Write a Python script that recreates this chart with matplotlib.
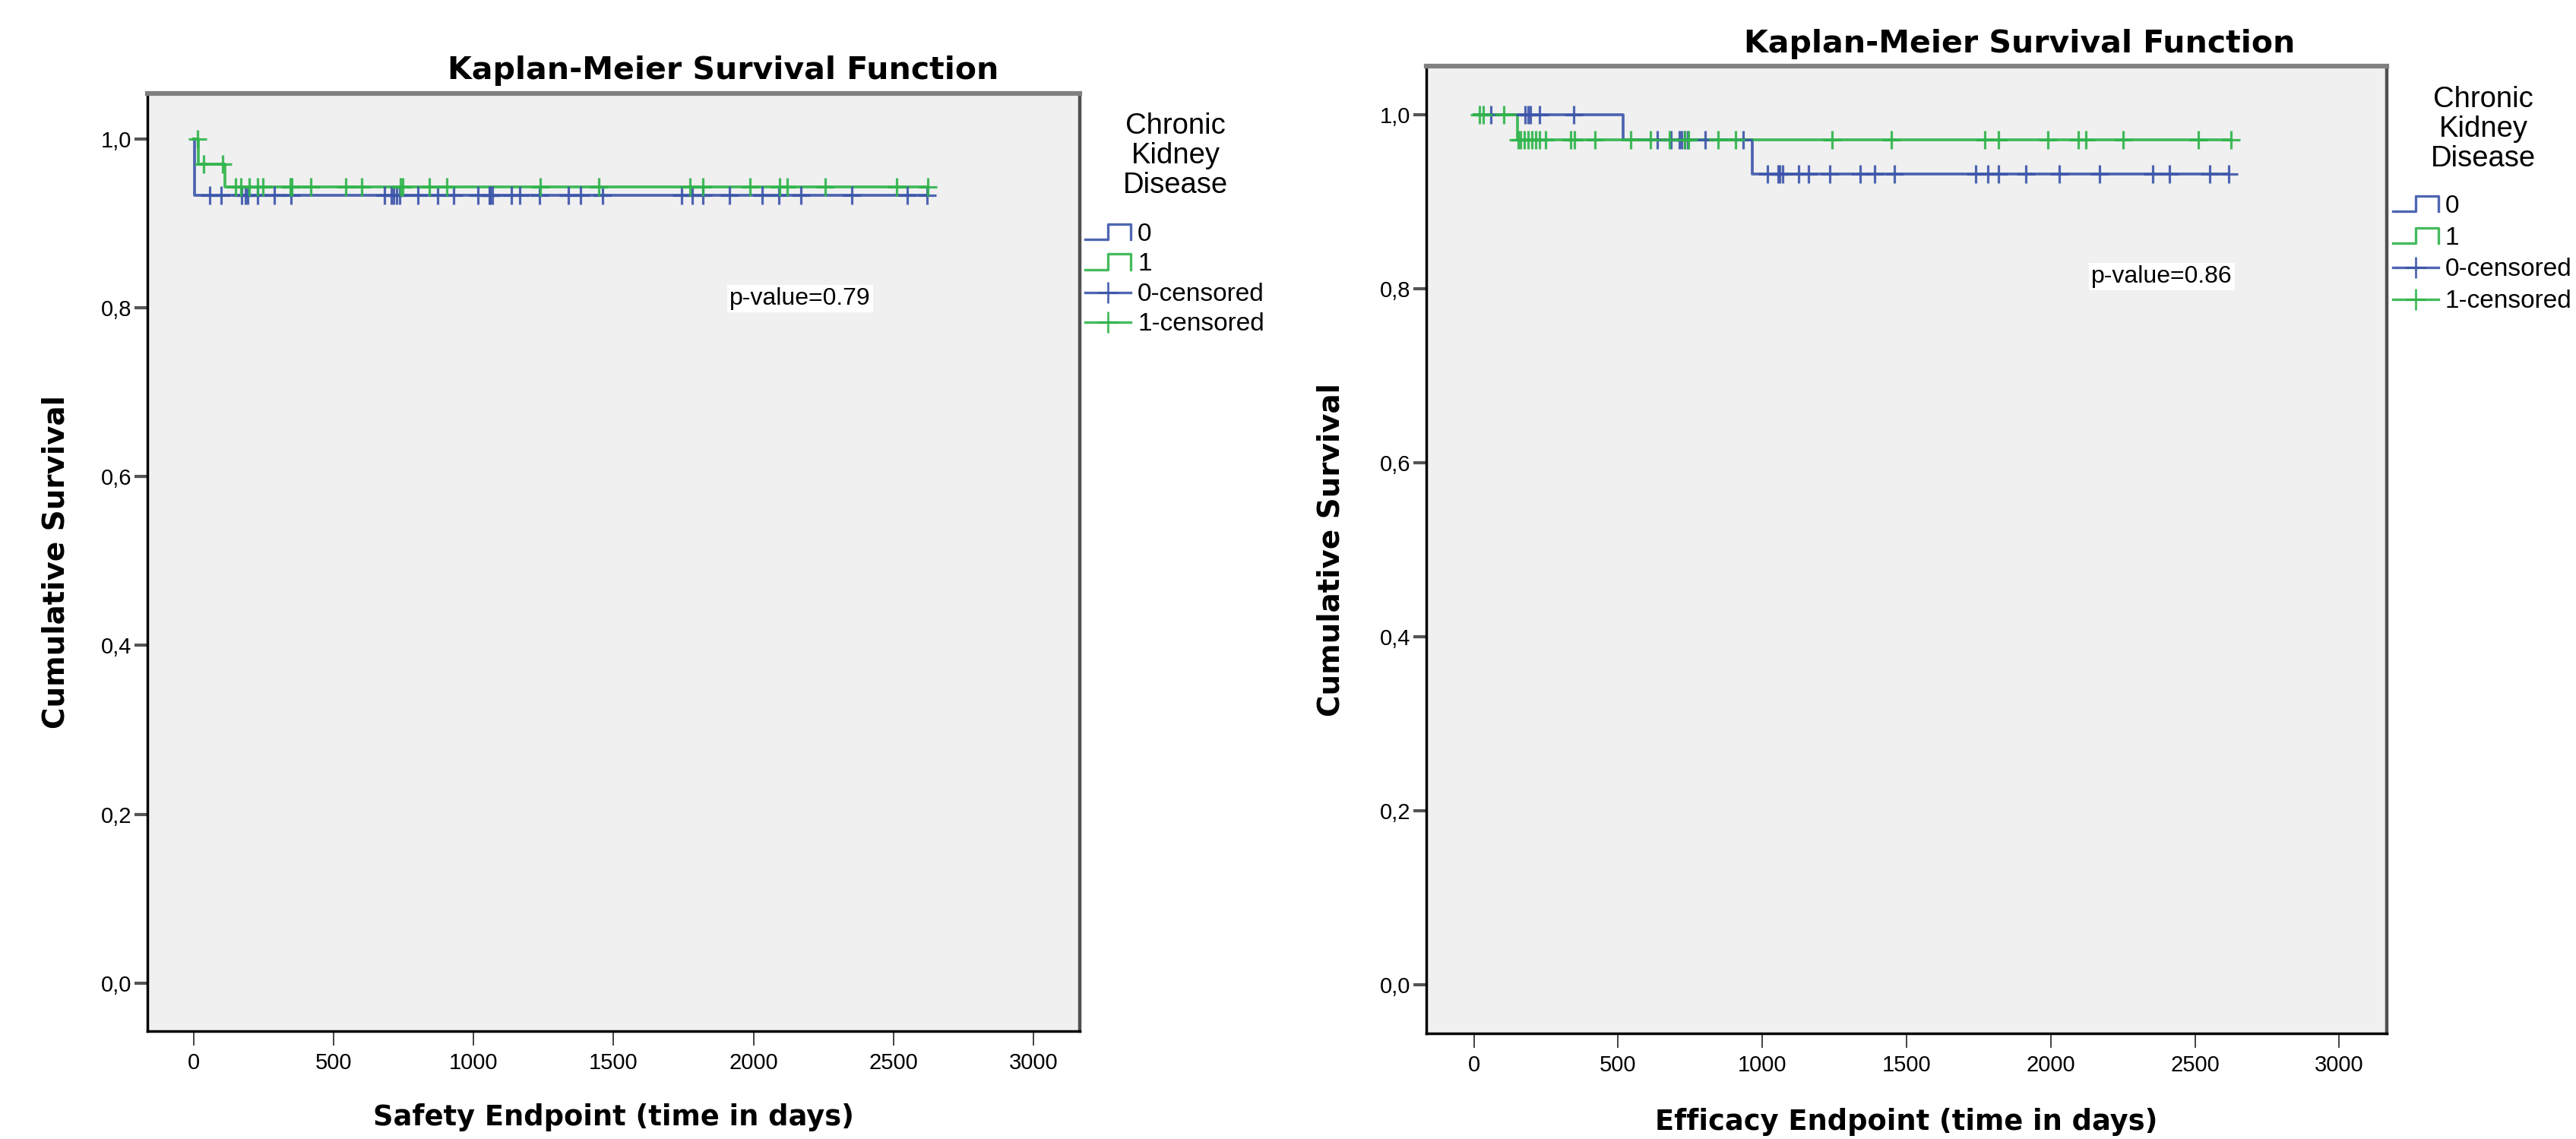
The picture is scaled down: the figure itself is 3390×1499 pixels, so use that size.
import matplotlib
matplotlib.use("Agg")
import matplotlib.pyplot as plt
import numpy as np
from matplotlib.lines import Line2D
from matplotlib.legend_handler import HandlerBase

plt.rcParams['font.family'] = ['Liberation Sans', 'DejaVu Sans']

# ---------------- data ----------------
x_ticks = [0, 500, 1000, 1500, 2000, 2500, 3000]
x_ticklabels = ["0", "500", "1000", "1500", "2000", "2500", "3000"]
y_ticks = [0.0, 0.2, 0.4, 0.6, 0.8, 1.0]
y_ticklabels = ["0,0", "0,2", "0,4", "0,6", "0,8", "1,0"]

group_labels = ["0", "1", "0-censored", "1-censored"]
legend_title = "Chronic\nKidney\nDisease"

# Safety endpoint
safety_ckd0_times = [0, 3, 2620]
safety_ckd0_surv = [1.0, 0.933, 0.933]
safety_ckd0_censored = [58, 97, 172, 184, 194, 228, 287, 348, 683, 706, 715, 725, 735,
                        800, 873, 930, 1016, 1055, 1060, 1067, 1134, 1164, 1235, 1338,
                        1383, 1461, 1742, 1780, 1819, 1913, 2030, 2089, 2170, 2352, 2550, 2620]
safety_ckd1_times = [0, 18, 112, 2623]
safety_ckd1_surv = [1.0, 0.970, 0.943, 0.943]
safety_ckd1_censored = [15, 36, 104, 149, 170, 198, 228, 248, 345, 352, 418, 543, 600,
                        740, 748, 843, 904, 1237, 1446, 1772, 1819, 1986, 2092, 2121,
                        2256, 2511, 2623]
safety_pvalue = "p-value=0.79"

# Efficacy endpoint
efficacy_ckd0_times = [0, 517, 966, 2618]
efficacy_ckd0_surv = [1.0, 0.971, 0.932, 0.932]
efficacy_ckd0_censored = [60, 178, 188, 197, 228, 346, 637, 684, 711, 721, 731, 742, 803,
                          933, 1017, 1054, 1060, 1070, 1127, 1161, 1235, 1338, 1389, 1459,
                          1741, 1781, 1819, 1913, 2029, 2170, 2354, 2412, 2552, 2618]
efficacy_ckd1_times = [0, 150, 2625]
efficacy_ckd1_surv = [1.0, 0.971, 0.971]
efficacy_ckd1_censored = [20, 33, 103, 155, 161, 174, 188, 201, 214, 228, 248, 335, 349,
                          420, 543, 611, 678, 731, 745, 846, 906, 1242, 1447, 1772, 1819,
                          1990, 2095, 2121, 2252, 2511, 2625]
efficacy_pvalue = "p-value=0.86"

title = "Kaplan-Meier Survival Function"
ylabel = "Cumulative Survival"
safety_xlabel = "Safety Endpoint (time in days)"
efficacy_xlabel = "Efficacy Endpoint (time in days)"

# ---------------- style ----------------
BLUE = "#3C55AA"
GREEN = "#2FB44B"
BOLD_FONT = ['DejaVu Sans']
W, H = 3390, 1499
fig = plt.figure(figsize=(W / 100, H / 100), dpi=100)


def fx(px):
    return px / W


def fy(py):
    return 1 - py / H


class StepHandler(HandlerBase):
    def create_artists(self, legend, orig_handle, xdescent, ydescent,
                       width, height, fontsize, trans):
        xs = np.array([0, 0.5, 0.5, 1.0, 1.0]) * width - xdescent
        ys = np.array([0.0, 0.0, 1.0, 1.0, 0.0]) * height - ydescent
        ln = Line2D(xs, ys, color=orig_handle.get_color(),
                    lw=orig_handle.get_linewidth(), alpha=orig_handle.get_alpha())
        ln.set_transform(trans)
        return [ln]


def km(ax, times, surv, cens, color):
    times = np.asarray(times, float)
    surv = np.asarray(surv, float)
    ax.step(times, surv, where='post', color=color, lw=2.7, alpha=0.9, zorder=3)
    idx = np.searchsorted(times, cens, side='right') - 1
    ax.plot(cens, surv[idx], ls='none', marker='+', ms=17, mew=2.3,
            color=color, alpha=0.9, zorder=4)


def setup(ax, xlabel, ylim, xlab_y, ylab_x):
    ax.set_facecolor("#F0F0F0")
    ax.set_xlim(-165, 3165)
    ax.set_ylim(*ylim)
    ax.set_xticks(x_ticks)
    ax.set_xticklabels(x_ticklabels)
    ax.set_yticks(y_ticks)
    ax.set_yticklabels(y_ticklabels)
    ax.tick_params(axis='x', direction='out', length=14, width=1.2, color='#222222',
                   labelsize=21, pad=6)
    ax.tick_params(axis='y', direction='out', length=12, width=3, color='#555555',
                   labelsize=21, pad=3)
    for s in ('left', 'bottom'):
        ax.spines[s].set_color('black')
        ax.spines[s].set_linewidth(2.5)
    ax.spines['top'].set_color('#808080')
    ax.spines['top'].set_linewidth(4.5)
    ax.spines['right'].set_color('#505050')
    ax.spines['right'].set_linewidth(3.2)
    ax.set_xlabel(xlabel, fontsize=26.5, fontweight='bold', family=BOLD_FONT)
    ax.set_ylabel(ylabel, fontsize=28, fontweight='bold', family=BOLD_FONT)
    ax.xaxis.set_label_coords(0.5, xlab_y)
    ax.yaxis.set_label_coords(ylab_x, 0.5)


def legend(ax, x_handle, y_top, x_title, y_title, spacing):
    h0 = Line2D([], [], color=BLUE, lw=2.4, alpha=0.9)
    h1 = Line2D([], [], color=GREEN, lw=2.4, alpha=0.9)
    h2 = Line2D([], [], color=BLUE, lw=2.4, alpha=0.9, marker='+', ms=20, mew=2.0)
    h3 = Line2D([], [], color=GREEN, lw=2.4, alpha=0.9, marker='+', ms=20, mew=2.0)
    ax.legend([h0, h1, h2, h3], group_labels, loc='upper left',
              bbox_to_anchor=(fx(x_handle), fy(y_top)), bbox_transform=fig.transFigure,
              frameon=False, fontsize=24, handlelength=1.8, handletextpad=0.27,
              labelspacing=spacing, borderpad=0, borderaxespad=0, handleheight=0.55,
              numpoints=1, handler_map={h0: StepHandler(), h1: StepHandler()})
    fig.text(fx(x_title), fy(y_title), legend_title, ha='center', va='center',
             multialignment='center', fontsize=27.5, linespacing=1.12)


# ---------------- left panel ----------------
ax1 = fig.add_axes([fx(194), fy(1357), (1421 - 194) / W, (1357 - 123) / H])
km(ax1, safety_ckd0_times, safety_ckd0_surv, safety_ckd0_censored, BLUE)
km(ax1, safety_ckd1_times, safety_ckd1_surv, safety_ckd1_censored, GREEN)
setup(ax1, safety_xlabel, (-0.057, 1.054), -0.077, -0.083)
legend(ax1, 1428, 293, 1547, 205, 0.25)
fig.text(fx(952), fy(93), title, ha='center', va='center', fontsize=29.5,
         fontweight='bold', family=BOLD_FONT)
fig.text(fx(1053), fy(393), safety_pvalue, ha='center', va='center', fontsize=23,
         bbox=dict(fc='white', ec='none', pad=2))

# ---------------- right panel ----------------
ax2 = fig.add_axes([fx(1877), fy(1360), (3141 - 1877) / W, (1360 - 87) / H])
km(ax2, efficacy_ckd0_times, efficacy_ckd0_surv, efficacy_ckd0_censored, BLUE)
km(ax2, efficacy_ckd1_times, efficacy_ckd1_surv, efficacy_ckd1_censored, GREEN)
setup(ax2, efficacy_xlabel, (-0.056, 1.056), -0.077, -0.084)
legend(ax2, 3149, 256, 3268, 170, 0.32)
fig.text(fx(2658), fy(58), title, ha='center', va='center', fontsize=29.5,
         fontweight='bold', family=BOLD_FONT)
fig.text(fx(2845), fy(364), efficacy_pvalue, ha='center', va='center', fontsize=23,
         bbox=dict(fc='white', ec='none', pad=2))

fig.savefig("out.png", dpi=100, facecolor='white')
